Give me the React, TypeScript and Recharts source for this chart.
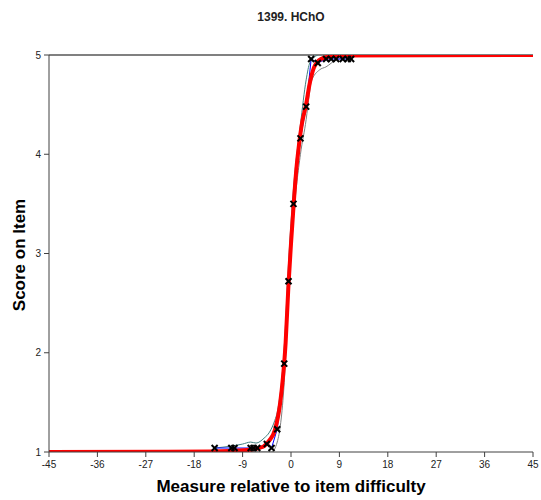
import React from "react";
import { ComposedChart, Line, Scatter, XAxis, YAxis, ReferenceLine } from "recharts";

const xTicks = [-45, -36, -27, -18, -9, 0, 9, 18, 27, 36, 45];
const yTicks = [1, 2, 3, 4, 5];

// Model expected-score curve
const modelX = [-45, -15, -8, -6, -5, -4, -3, -2, -1.5, -1, -0.5, 0, 0.5, 1, 1.5, 2, 2.8, 3.5, 4.5, 6, 9, 45];
const modelY = [1.0, 1.005, 1.02, 1.04, 1.06, 1.12, 1.22, 1.5, 1.75, 2.1, 2.65, 3.1, 3.5, 3.85, 4.1, 4.3, 4.5, 4.72, 4.9, 4.97, 4.995, 5.0];

// Observed empirical points
const obsX = [-14.2, -11.1, -10.5, -7.5, -6.96, -6.28, -4.49, -3.62, -2.56, -1.26, -0.46, 0.46, 1.76, 2.82, 3.75, 4.98, 6.54, 7.46, 8.39, 9.62, 10.55, 11.18];
const obsY = [1.04, 1.04, 1.04, 1.04, 1.04, 1.04, 1.08, 1.04, 1.23, 1.89, 2.72, 3.5, 4.16, 4.48, 4.96, 4.92, 4.96, 4.96, 4.96, 4.96, 4.96, 4.96];

// Upper confidence band
const upX = [-14.2, -11.1, -9, -7.5, -6.5, -5, -4, -3, -2.56, -1.26, -0.46, 0.46, 1.76, 2.82, 3.5, 4.98];
const upY = [1.04, 1.06, 1.08, 1.1, 1.09, 1.14, 1.2, 1.32, 1.4, 2.05, 2.9, 3.65, 4.3, 4.75, 4.92, 5.0];

// Lower confidence band
const loX = [-14.2, -3.62, -2.56, -1.26, -0.46, 0.46, 1.76, 2.82, 3.4, 3.75, 5.3, 6.5, 8.4, 11.18];
const loY = [1.0, 1.0, 1.1, 1.7, 2.55, 3.35, 4.0, 4.35, 4.6, 4.73, 4.85, 4.88, 4.95, 4.98];

const zip = (xs: number[], ys: number[]) => xs.map((x, i) => ({ x, y: ys[i] }));

const modelData = zip(modelX, modelY);
const obsData = zip(obsX, obsY);
const upData = zip(upX, upY);
const loData = zip(loX, loY);

const XMark = (props: any) => {
  const { cx, cy } = props;
  if (cx == null || cy == null) return null;
  const s = 3;
  return (
    <g>
      <line x1={cx - s} y1={cy - s} x2={cx + s} y2={cy + s} stroke="#000" strokeWidth={2} />
      <line x1={cx - s} y1={cy + s} x2={cx + s} y2={cy - s} stroke="#000" strokeWidth={2} />
    </g>
  );
};

const font = "Arial, 'Liberation Sans', sans-serif";

export default function App() {
  return (
    <div style={{ position: "relative", width: 541, height: 500, fontFamily: font, background: "#fff" }}>
      <style>{`body { margin: 0; }`}</style>
      <div style={{ position: "absolute", left: 0, width: 582, top: 10, textAlign: "center", fontWeight: "bold", fontSize: 12, color: "#222" }}>
        1399. HChO
      </div>
      <div style={{ position: "absolute", left: 20, top: 255, width: 0, height: 0 }}>
        <div style={{ position: "absolute", transform: "translate(-50%, -50%) rotate(-90deg)", whiteSpace: "nowrap", fontWeight: "bold", fontSize: 17, color: "#000" }}>
          Score on Item
        </div>
      </div>
      <div style={{ position: "absolute", left: 0, width: 582, top: 477, textAlign: "center", fontWeight: "bold", fontSize: 17, color: "#000", lineHeight: "20px" }}>
        Measure relative to item difficulty
      </div>
      <ComposedChart width={541} height={500} margin={{ top: 55, right: 8, left: 19, bottom: 0 }}>
        <XAxis
          dataKey="x"
          type="number"
          domain={[-45, 45]}
          ticks={xTicks}
          interval={0}
          allowDataOverflow
          height={48}
          tickSize={5}
          tickMargin={4}
          stroke="#404040"
          tick={{ fontSize: 10, fill: "#222", fontFamily: font }}
        />
        <YAxis
          dataKey="y"
          type="number"
          domain={[1, 5]}
          ticks={yTicks}
          interval={0}
          allowDataOverflow
          width={30}
          tickSize={5}
          tickMargin={3}
          stroke="#404040"
          tick={{ fontSize: 10, fill: "#222", fontFamily: font }}
        />
        <ReferenceLine y={5} stroke="#808080" strokeWidth={2} />
        <Line data={loData} dataKey="y" type="monotone" stroke="#808080" strokeWidth={1} dot={false} isAnimationActive={false} />
        <Line data={upData} dataKey="y" type="monotone" stroke="#408080" strokeWidth={1} dot={false} isAnimationActive={false} />
        <Line data={obsData} dataKey="y" type="linear" stroke="#0000ff" strokeWidth={1} dot={false} isAnimationActive={false} />
        <Line data={modelData} dataKey="y" type="monotone" stroke="#ff0000" strokeWidth={4} dot={false} isAnimationActive={false} />
        <Scatter data={obsData} dataKey="y" shape={XMark} isAnimationActive={false} />
      </ComposedChart>
    </div>
  );
}
